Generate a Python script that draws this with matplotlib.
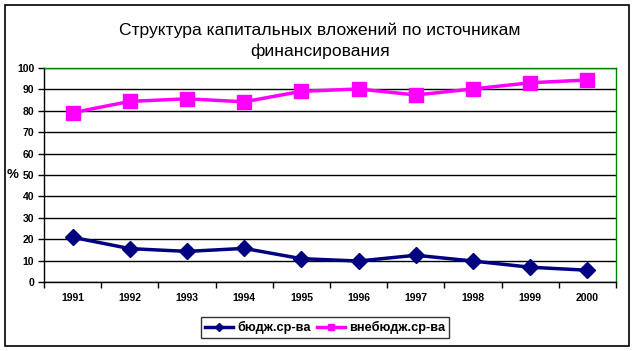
import matplotlib
matplotlib.use("Agg")
import matplotlib.pyplot as plt
from matplotlib.patches import Rectangle

years = ["1991", "1992", "1993", "1994", "1995", "1996", "1997", "1998", "1999", "2000"]
budget = [20.9, 15.6, 14.3, 15.7, 10.9, 9.8, 12.5, 9.8, 6.9, 5.5]
offbudget = [79.1, 84.4, 85.6, 84.2, 89.1, 90.2, 87.4, 90.2, 93.1, 94.4]
series_names = ["бюдж.ср-ва", "внебюдж.ср-ва"]
title = "Структура капитальных вложений по источникам\nфинансирования"
yticks = [0, 10, 20, 30, 40, 50, 60, 70, 80, 90, 100]

plt.rcParams['font.family'] = ['Liberation Sans', 'DejaVu Sans']

W, H = 635, 351
fig = plt.figure(figsize=(W / 100, H / 100), dpi=100)
fig.patch.set_facecolor('white')

# outer frame
fig.add_artist(Rectangle((5 / W, 1 - 346 / H), 624 / W, 341 / H, transform=fig.transFigure,
                         fill=False, edgecolor='black', linewidth=1.2))

left, right, top, bottom = 44, 616, 68, 282
ax = fig.add_axes([left / W, 1 - bottom / H, (right - left) / W, (bottom - top) / H])

x = list(range(len(years)))
ax.plot(x, budget, color='#000080', linewidth=2.5, marker='D', markersize=8.5,
        label=series_names[0], zorder=3)
ax.plot(x, offbudget, color='#FF00FF', linewidth=2.5, marker='s', markersize=10,
        label=series_names[1], zorder=3)

ax.set_xlim(-0.5, len(years) - 0.5)
ax.set_ylim(0, 100)
ax.set_yticks(yticks)
ax.set_yticklabels([str(v) for v in yticks], fontsize=7.5, fontweight='bold')
ax.yaxis.grid(True, color='black', linewidth=1)
ax.set_axisbelow(True)

ax.set_xticks([i + 0.5 for i in range(-1, len(years))])
ax.set_xticklabels([])
ax.set_xticks(x, minor=True)
ax.set_xticklabels(years, minor=True, fontsize=7.5, fontweight='bold')
ax.tick_params(axis='x', which='minor', length=0, pad=8)
ax.tick_params(axis='x', which='major', length=4, direction='out', width=1)
ax.tick_params(axis='y', length=4, direction='out', width=1, pad=3)

for s in ['left', 'bottom']:
    ax.spines[s].set_color('black')
    ax.spines[s].set_linewidth(1)
for s in ['top', 'right']:
    ax.spines[s].set_color('#008000')
    ax.spines[s].set_linewidth(1)

ax.set_ylabel('%', rotation=0, fontsize=9.5, fontweight='bold', labelpad=3, va='center')

fig.text(320 / W, 1 - 40.5 / H, title, ha='center', va='center', fontsize=12.6, linespacing=1.45)

leg = fig.legend(loc='center', bbox_to_anchor=(325 / W, 1 - 327.5 / H), ncol=2,
                 frameon=True, fancybox=False, edgecolor='black',
                 prop={'weight': 'bold', 'size': 9.2}, markerscale=0.5,
                 handlelength=2.2, columnspacing=0.5, handletextpad=0.3,
                 borderpad=0.35)
leg.get_frame().set_linewidth(1)

fig.savefig('out.png', dpi=100, facecolor='white')
